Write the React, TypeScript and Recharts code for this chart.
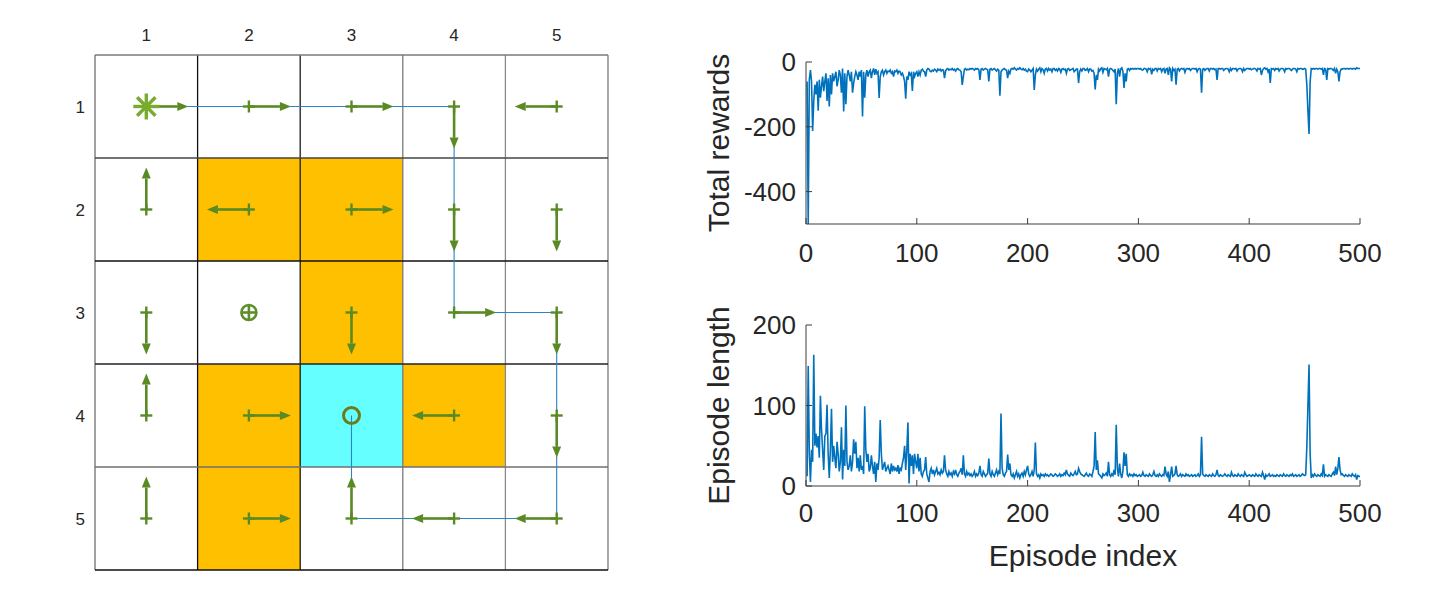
import React from "react";
import {
  ComposedChart, LineChart, Line, Scatter, XAxis, YAxis, ReferenceArea, ReferenceLine, Label,
} from "recharts";

// ---- grid world ----
const gridTicks = [1, 2, 3, 4, 5];
const gridEdges = [0.5, 1.5, 2.5, 3.5, 4.5, 5.5];
const vEdgeColors = ["#6f6f6f", "#111111", "#1a1a1a", "#7a7a7a", "#8a8a8a", "#7a7a7a"];
const hEdgeColors = ["#7a7a7a", "#444444", "#111111", "#222222", "#6f6f6f", "#111111"];

const hazardCells = [
  { row: 2, col: 2 }, { row: 2, col: 3 }, { row: 3, col: 3 },
  { row: 4, col: 2 }, { row: 4, col: 4 }, { row: 5, col: 2 },
];
const goalCells = [{ row: 4, col: 3 }];
const startCells = [{ row: 1, col: 1 }];
const jumpCells = [{ row: 3, col: 2 }];

const policy = [
  { row: 1, col: 1, dir: "R" }, { row: 1, col: 2, dir: "R" }, { row: 1, col: 3, dir: "R" }, { row: 1, col: 4, dir: "D" }, { row: 1, col: 5, dir: "L" },
  { row: 2, col: 1, dir: "U" }, { row: 2, col: 2, dir: "L" }, { row: 2, col: 3, dir: "R" }, { row: 2, col: 4, dir: "D" }, { row: 2, col: 5, dir: "D" },
  { row: 3, col: 1, dir: "D" }, { row: 3, col: 3, dir: "D" }, { row: 3, col: 4, dir: "R" }, { row: 3, col: 5, dir: "D" },
  { row: 4, col: 1, dir: "U" }, { row: 4, col: 2, dir: "R" }, { row: 4, col: 4, dir: "L" }, { row: 4, col: 5, dir: "D" },
  { row: 5, col: 1, dir: "U" }, { row: 5, col: 2, dir: "R" }, { row: 5, col: 3, dir: "U" }, { row: 5, col: 4, dir: "L" }, { row: 5, col: 5, dir: "L" },
];

const greedyPath = [
  { col: 1, row: 1 }, { col: 4, row: 1 }, { col: 4, row: 3 }, { col: 5, row: 3 },
  { col: 5, row: 5 }, { col: 3, row: 5 }, { col: 3, row: 4 },
];

// ---- training curves ----
const episodeTicks = [0, 100, 200, 300, 400, 500];
const rewardTicks = [-400, -200, 0];
const lengthTicks = [0, 100, 200];

const totalRewards = [
  -60, -500, -55, -25, -60, -213, -120, -70, -100, -60, -150, -55, -110, -75, -45, -90, -60, -35, -120, -50, -137, -40, -100, -35, -60,
  -45, -30, -75, -55, -25, -40, -95, -20, -153, -35, -130, -45, -25, -40, -60, -30, -95, -65, -45, -30, -40, -55, -30, -45, -25,
  -168, -30, -110, -40, -25, -45, -30, -25, -50, -30, -20, -40, -22, -35, -30, -111, -45, -30, -25, -40, -30, -25, -35, -28, -30,
  -25, -35, -30, -45, -28, -30, -25, -35, -28, -30, -40, -35, -45, -60, -113, -45, -55, -30, -40, -35, -89, -30, -45, -35, -30,
  -45, -30, -40, -25, -22, -28, -30, -45, -25, -20, -22, -28, -30, -25, -28, -22, -25, -30, -22, -25, -22, -28, -24, -25, -50,
  -28, -22, -20, -25, -22, -24, -20, -25, -22, -28, -22, -20, -24, -25, -30, -71, -45, -22, -20, -25, -22, -24, -20, -22, -20,
  -22, -25, -20, -22, -20, -24, -55, -22, -20, -25, -22, -20, -22, -24, -60, -22, -20, -25, -22, -20, -24, -28, -22, -25, -104,
  -30, -25, -22, -20, -24, -25, -50, -28, -35, -22, -20, -22, -18, -22, -25, -20, -22, -18, -22, -24, -20, -25, -22, -28, -30,
  -22, -25, -30, -25, -20, -86, -40, -22, -28, -22, -18, -30, -20, -24, -35, -22, -20, -28, -20, -25, -22, -30, -20, -20, -26,
  -22, -28, -20, -22, -32, -22, -20, -24, -22, -35, -22, -20, -26, -24, -22, -20, -30, -26, -22, -22, -65, -30, -22, -28, -20,
  -20, -26, -24, -20, -30, -22, -22, -28, -26, -35, -85, -40, -55, -22, -28, -20, -18, -32, -20, -22, -24, -20, -45, -22, -20,
  -22, -26, -30, -22, -130, -35, -20, -45, -22, -18, -28, -80, -35, -60, -22, -20, -26, -20, -22, -20, -22, -20, -22, -20, -20,
  -22, -20, -24, -25, -20, -20, -22, -30, -20, -22, -20, -38, -22, -26, -20, -20, -28, -20, -22, -20, -30, -22, -20, -35, -22,
  -20, -40, -18, -22, -60, -20, -26, -22, -70, -22, -20, -28, -22, -20, -22, -20, -32, -22, -20, -22, -20, -26, -22, -20, -20,
  -22, -20, -30, -22, -20, -22, -95, -22, -20, -26, -22, -20, -20, -28, -20, -20, -22, -20, -24, -22, -55, -20, -20, -22, -20,
  -20, -26, -22, -20, -20, -22, -30, -20, -26, -20, -20, -22, -20, -28, -22, -20, -20, -22, -30, -20, -26, -22, -20, -20, -22,
  -20, -24, -22, -20, -20, -22, -28, -20, -22, -20, -40, -26, -20, -18, -22, -20, -30, -22, -65, -20, -22, -20, -26, -20, -22,
  -20, -28, -22, -20, -20, -22, -30, -20, -22, -20, -20, -22, -26, -22, -20, -20, -22, -30, -20, -22, -20, -20, -22, -22, -20,
  -22, -70, -150, -222, -60, -20, -22, -20, -22, -20, -20, -22, -20, -20, -22, -20, -40, -20, -22, -55, -20, -22, -20, -20, -22,
  -26, -20, -35, -22, -30, -60, -30, -22, -22, -20, -20, -22, -20, -20, -22, -20, -20, -22, -20, -20, -22, -18, -20, -20, -20,
];

const episodeLengths = [
  12, 149, 40, 5, 45, 30, 163, 50, 65, 48, 62, 35, 112, 70, 45, 20, 62, 65, 101, 40, 10, 45, 96, 30, 50,
  35, 22, 55, 40, 18, 30, 73, 8, 45, 25, 100, 30, 20, 25, 38, 18, 30, 58, 40, 55, 22, 35, 18, 38, 20,
  25, 15, 99, 45, 30, 40, 18, 22, 38, 25, 15, 30, 5, 28, 20, 35, 82, 40, 20, 25, 30, 18, 22, 25, 20,
  15, 28, 18, 25, 20, 22, 18, 26, 15, 22, 20, 28, 35, 50, 20, 45, 79, 3, 40, 25, 38, 15, 40, 30, 22,
  40, 18, 35, 15, 12, 18, 20, 36, 15, 10, 5, 18, 22, 15, 20, 14, 18, 22, 15, 17, 14, 20, 16, 18, 38,
  20, 15, 12, 18, 14, 16, 12, 18, 15, 20, 14, 12, 16, 18, 22, 14, 38, 15, 12, 18, 14, 16, 13, 15, 12,
  14, 18, 12, 15, 13, 16, 25, 14, 12, 18, 15, 12, 14, 16, 34, 15, 12, 18, 14, 12, 16, 20, 14, 18, 15,
  90, 22, 14, 12, 16, 18, 39, 20, 28, 14, 12, 15, 10, 14, 18, 12, 15, 10, 14, 16, 12, 18, 14, 20, 25,
  15, 12, 14, 18, 12, 20, 54, 15, 12, 14, 10, 15, 13, 14, 12, 15, 13, 14, 12, 13, 15, 14, 12, 13, 15,
  14, 12, 13, 15, 12, 14, 13, 16, 14, 20, 15, 13, 12, 16, 14, 13, 15, 18, 14, 15, 22, 18, 15, 14, 13,
  12, 14, 16, 13, 12, 15, 14, 12, 18, 25, 67, 20, 32, 15, 14, 12, 10, 15, 13, 14, 16, 12, 30, 14, 12,
  15, 13, 20, 14, 76, 22, 12, 28, 15, 10, 18, 42, 25, 40, 14, 12, 15, 13, 14, 12, 15, 13, 14, 12, 13,
  14, 12, 13, 17, 13, 12, 14, 13, 12, 15, 13, 12, 14, 18, 13, 12, 14, 12, 15, 13, 12, 14, 13, 24, 15,
  12, 18, 5, 14, 24, 12, 13, 15, 25, 14, 12, 13, 15, 12, 14, 13, 12, 15, 13, 14, 12, 13, 14, 12, 13,
  14, 12, 13, 15, 12, 14, 61, 15, 13, 12, 14, 13, 12, 14, 13, 12, 15, 13, 12, 14, 20, 13, 12, 14, 13,
  12, 13, 15, 13, 12, 14, 13, 12, 17, 13, 12, 14, 13, 12, 15, 13, 12, 14, 13, 12, 17, 14, 12, 13, 14,
  13, 12, 14, 13, 12, 15, 13, 12, 14, 13, 12, 17, 13, 8, 14, 12, 13, 15, 12, 13, 14, 12, 13, 12, 14,
  13, 12, 14, 13, 12, 15, 13, 12, 14, 13, 12, 14, 13, 15, 12, 13, 14, 12, 13, 14, 12, 13, 15, 14, 13,
  14, 48, 100, 151, 40, 10, 14, 12, 15, 13, 12, 14, 13, 12, 15, 13, 27, 12, 14, 13, 12, 14, 13, 12, 15,
  17, 13, 24, 14, 22, 36, 20, 14, 15, 13, 12, 14, 13, 12, 14, 13, 12, 15, 13, 12, 14, 8, 13, 12, 12,
];

const trainData = totalRewards.map((r, i) => ({ ep: i + 1, reward: r, length: episodeLengths[i] }));

// ---- styles ----
const FONT = "'Liberation Sans', Arial, Helvetica, sans-serif";
const TEXT = "#262626";
const BOX = "#3c3c3c";
const LINE_BLUE = "#0072BD";
const ARROW_GREEN = "#5a8a24";
const ARROW_LEN = 42;
const HEAD_LEN = 11;
const HEAD_HALF = 4.5;
const TICK_IN = 6;
const DIRS: Record<string, [number, number]> = { R: [1, 0], L: [-1, 0], U: [0, -1], D: [0, 1] };

function PolicyArrow(props: any) {
  const { cx, cy, payload } = props;
  const [dx, dy] = DIRS[payload.dir];
  const tx = cx + dx * ARROW_LEN;
  const ty = cy + dy * ARROW_LEN;
  const bx = tx - dx * HEAD_LEN;
  const by = ty - dy * HEAD_LEN;
  const px = -dy, py = dx;
  const head = `${tx},${ty} ${bx + px * HEAD_HALF},${by + py * HEAD_HALF} ${bx - px * HEAD_HALF},${by - py * HEAD_HALF}`;
  return (
    <g>
      <line x1={cx} y1={cy} x2={bx} y2={by} stroke={ARROW_GREEN} strokeWidth={2.6} />
      <polygon points={head} fill={ARROW_GREEN} />
      <line x1={cx - 6} y1={cy} x2={cx + 6} y2={cy} stroke={ARROW_GREEN} strokeWidth={2.4} />
      <line x1={cx} y1={cy - 6} x2={cx} y2={cy + 6} stroke={ARROW_GREEN} strokeWidth={2.4} />
    </g>
  );
}

function StartMark(props: any) {
  const { cx, cy } = props;
  const r = 13;
  const d = r * 0.707;
  return (
    <g stroke="#77AC30" strokeWidth={3.4}>
      <line x1={cx - r} y1={cy} x2={cx + r} y2={cy} />
      <line x1={cx} y1={cy - r} x2={cx} y2={cy + r} />
      <line x1={cx - d} y1={cy - d} x2={cx + d} y2={cy + d} />
      <line x1={cx - d} y1={cy + d} x2={cx + d} y2={cy - d} />
    </g>
  );
}

function JumpMark(props: any) {
  const { cx, cy } = props;
  return (
    <g stroke="#5e8e2c" strokeWidth={2.6} fill="none">
      <circle cx={cx} cy={cy} r={7.5} />
      <line x1={cx - 7.5} y1={cy} x2={cx + 7.5} y2={cy} />
      <line x1={cx} y1={cy - 7.5} x2={cx} y2={cy + 7.5} />
    </g>
  );
}

function GoalMark(props: any) {
  const { cx, cy } = props;
  return <circle cx={cx} cy={cy} r={8} stroke="#6b7d1b" strokeWidth={3} fill="none" />;
}

const gridColTick = (p: any) => (
  <text x={p.x} y={p.y} textAnchor="middle" fontSize={17} fill={TEXT} fontFamily={FONT}>
    {p.payload.value}
  </text>
);
const gridRowTick = (p: any) => (
  <text x={p.x} y={p.y} dy="0.36em" textAnchor="end" fontSize={17} fill={TEXT} fontFamily={FONT}>
    {p.payload.value}
  </text>
);

function GridWorld() {
  return (
    <ComposedChart width={620} height={593} margin={{ top: 0, right: 12, bottom: 23, left: 0 }}>
      <XAxis
        type="number" dataKey="col" orientation="top" domain={[0.5, 5.5]} ticks={gridTicks}
        height={55} axisLine={false} tickLine={false} tickSize={0} tickMargin={14}
        tick={gridColTick} allowDataOverflow
      />
      <YAxis
        type="number" dataKey="row" reversed domain={[0.5, 5.5]} ticks={gridTicks}
        width={95} axisLine={false} tickLine={false} tickSize={0} tickMargin={10}
        tick={gridRowTick} allowDataOverflow
      />
      {hazardCells.map((c) => (
        <ReferenceArea key={`h${c.row}${c.col}`} x1={c.col - 0.5} x2={c.col + 0.5} y1={c.row - 0.5} y2={c.row + 0.5}
          fill="#FFC000" fillOpacity={1} stroke="none" />
      ))}
      {goalCells.map((c) => (
        <ReferenceArea key={`g${c.row}${c.col}`} x1={c.col - 0.5} x2={c.col + 0.5} y1={c.row - 0.5} y2={c.row + 0.5}
          fill="#66FFFF" fillOpacity={1} stroke="none" />
      ))}
      {gridEdges.map((v, i) => (
        <ReferenceLine key={`v${v}`} x={v} stroke={vEdgeColors[i]} strokeWidth={1.3} />
      ))}
      {gridEdges.map((v, i) => (
        <ReferenceLine key={`h${v}`} y={v} stroke={hEdgeColors[i]} strokeWidth={1.3} />
      ))}
      <Line data={greedyPath} dataKey="row" type="linear" stroke="#2a84c6" strokeWidth={1.1}
        dot={false} activeDot={false} isAnimationActive={false} />
      <Scatter data={policy} dataKey="row" shape={PolicyArrow} isAnimationActive={false} />
      <Scatter data={startCells} dataKey="row" shape={StartMark} isAnimationActive={false} />
      <Scatter data={jumpCells} dataKey="row" shape={JumpMark} isAnimationActive={false} />
      <Scatter data={goalCells} dataKey="row" shape={GoalMark} isAnimationActive={false} />
    </ComposedChart>
  );
}

// inward ticks (MATLAB box style) with labels outside
const bottomTick = (m: number) => (p: any) => {
  const ay = p.y - m;
  return (
    <g>
      <line x1={p.x} y1={ay} x2={p.x} y2={ay - TICK_IN} stroke={BOX} />
      <text x={p.x} y={p.y} dy="0.71em" textAnchor="middle" fontSize={26} fill={TEXT} fontFamily={FONT}>
        {p.payload.value}
      </text>
    </g>
  );
};
const topTick = (p: any) => (
  <line x1={p.x} y1={p.y} x2={p.x} y2={p.y + TICK_IN} stroke={BOX} />
);
const leftTick = (m: number) => (p: any) => {
  const ax = p.x + m;
  return (
    <g>
      <line x1={ax} y1={p.y} x2={ax + TICK_IN} y2={p.y} stroke={BOX} />
      <text x={p.x} y={p.y} dy="0.36em" textAnchor="end" fontSize={26} fill={TEXT} fontFamily={FONT}>
        {p.payload.value}
      </text>
    </g>
  );
};
const rightTick = (p: any) => (
  <line x1={p.x} y1={p.y} x2={p.x - TICK_IN} y2={p.y} stroke={BOX} />
);

type SeriesProps = {
  dataKey: string;
  domain: [number, number];
  yTicks: number[];
  yLabel: string;
  xLabel?: string;
  height: number;
  top: number;
  bottom: number;
  xHeight: number;
  xMargin: number;
};

function TrainingCurve({ dataKey, domain, yTicks, yLabel, xLabel, height, top, bottom, xHeight, xMargin }: SeriesProps) {
  return (
    <LineChart width={700} height={height} data={trainData} margin={{ top, right: 40, bottom, left: 0 }}>
      <XAxis
        type="number" dataKey="ep" domain={[0, 500]} ticks={episodeTicks} height={xHeight}
        axisLine={{ stroke: BOX }} tickLine={false} tickSize={0} tickMargin={xMargin} tick={bottomTick(xMargin)}
        allowDataOverflow
      >
        {xLabel && (
          <Label value={xLabel} position="insideBottom" offset={0}
            style={{ fontSize: 30, fill: TEXT, fontFamily: FONT }} />
        )}
      </XAxis>
      <XAxis
        xAxisId="top" type="number" orientation="top" domain={[0, 500]} ticks={episodeTicks} height={0}
        axisLine={{ stroke: BOX }} tickLine={false} tickSize={0} tickMargin={0} tick={topTick}
      />
      <YAxis
        type="number" domain={domain} ticks={yTicks} width={106}
        axisLine={{ stroke: BOX }} tickLine={false} tickSize={0} tickMargin={10} tick={leftTick(10)}
        allowDataOverflow
      >
        <Label value={yLabel} angle={-90} position="insideLeft" offset={18}
          style={{ fontSize: 30, fill: TEXT, fontFamily: FONT, textAnchor: "middle" }} />
      </YAxis>
      <YAxis
        yAxisId="right" type="number" orientation="right" domain={domain} ticks={yTicks} width={0}
        axisLine={{ stroke: BOX }} tickLine={false} tickSize={0} tickMargin={0} tick={rightTick}
      />
      <Line type="linear" dataKey={dataKey} stroke={LINE_BLUE} strokeWidth={1.6} dot={false}
        activeDot={false} isAnimationActive={false} />
    </LineChart>
  );
}

export default function App() {
  return (
    <div style={{ position: "absolute", left: 0, top: 0, width: 1447, height: 593, background: "#fff", fontFamily: FONT }}>
      <div style={{ position: "absolute", left: 0, top: 0 }}>
        <GridWorld />
      </div>
      <div style={{ position: "absolute", left: 700, top: 30 }}>
        <TrainingCurve dataKey="reward" domain={[-500, 0]} yTicks={rewardTicks} yLabel="Total rewards"
          height={260} top={32} bottom={16} xHeight={50} xMargin={20} />
      </div>
      <div style={{ position: "absolute", left: 700, top: 295 }}>
        <TrainingCurve dataKey="length" domain={[0, 200]} yTicks={lengthTicks} yLabel="Episode length"
          xLabel="Episode index" height={298} top={30} bottom={27} xHeight={80} xMargin={18} />
      </div>
    </div>
  );
}
